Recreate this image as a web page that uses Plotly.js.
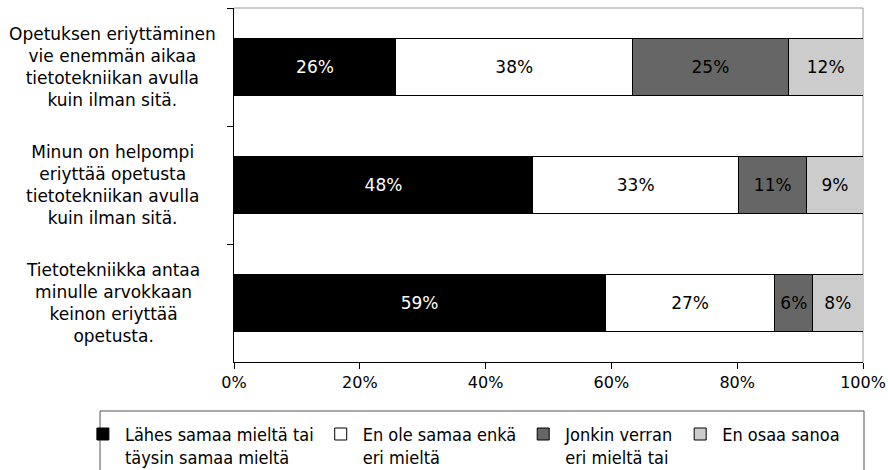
<!DOCTYPE html>
<html>
<head>
<meta charset="utf-8">
<script src="https://cdn.plot.ly/plotly-3.0.1.min.js"></script>
<style>
  html, body { margin: 0; padding: 0; background: #ffffff; }
  #chart { width: 888px; height: 470px; }
</style>
</head>
<body>
<div id="chart"></div>
<script>
// Categories (top to bottom)
const categories = [
  "Opetuksen eriyttäminen<br>vie enemmän aikaa<br>tietotekniikan avulla<br>kuin ilman sitä.",
  "Minun on helpompi<br>eriyttää opetusta<br>tietotekniikan avulla<br>kuin ilman sitä.",
  "Tietotekniikka antaa<br>minulle arvokkaan<br>keinon eriyttää<br>opetusta."
];

// Series names (legend)
const seriesNames = [
  "Lähes samaa mieltä tai<br>täysin samaa mieltä",
  "En ole samaa enkä<br>eri mieltä",
  "Jonkin verran<br>eri mieltä tai",
  "En osaa sanoa"
];

// Series values (percent, per category)
const agree     = [26, 48, 59];
const neutral   = [38, 33, 27];
const disagree  = [25, 11, 6];
const dontKnow  = [12, 9, 8];

const seriesValues = [agree, neutral, disagree, dontKnow];
const seriesColors = ["#000000", "#ffffff", "#666666", "#cccccc"];
const labelColors  = ["#ffffff", "#000000", "#000000", "#000000"];

// X axis ticks
const xTickVals = [0, 20, 40, 60, 80, 100];
const xTickText = ["0%", "20%", "40%", "60%", "80%", "100%"];

const traces = seriesValues.map((vals, i) => ({
  type: "bar",
  orientation: "h",
  name: seriesNames[i],
  y: categories,
  x: vals,
  text: vals.map(v => v + "%"),
  textposition: "inside",
  insidetextanchor: "middle",
  textangle: 0,
  constraintext: "none",
  textfont: { family: "DejaVu Sans", size: 17, color: labelColors[i] },
  marker: { color: seriesColors[i], line: { color: "#000000", width: 1 } },
  hoverinfo: "skip"
}));

const annotations = categories.map(c => ({
  xref: "paper", yref: "y",
  x: -0.1924, y: c,
  xanchor: "center", yanchor: "middle",
  text: c, align: "center", showarrow: false,
  font: { family: "DejaVu Sans", size: 17, color: "#000000" }
}));

const layout = {
  width: 888, height: 470,
  margin: { l: 234, r: 25, t: 8, b: 108, pad: 0, autoexpand: false },
  paper_bgcolor: "#ffffff",
  plot_bgcolor: "#ffffff",
  barmode: "stack",
  barnorm: "percent",
  bargap: 0.515,
  font: { family: "DejaVu Sans", color: "#000000" },
  xaxis: {
    range: [0, 100],
    tickvals: xTickVals,
    ticktext: xTickText,
    ticks: "outside", ticklen: 6, tickcolor: "#000000", tickwidth: 1,
    showline: true, linecolor: "#000000", linewidth: 1,
    showgrid: false, zeroline: false,
    tickfont: { family: "DejaVu Sans", size: 16, color: "#000000" },
    fixedrange: true
  },
  yaxis: {
    type: "category",
    range: [2.5, -0.5],
    tickson: "boundaries",
    ticks: "outside", ticklen: 6, tickcolor: "#000000", tickwidth: 1,
    showline: true, linecolor: "#000000", linewidth: 1,
    showgrid: false, zeroline: false,
    showticklabels: false,
    fixedrange: true
  },
  showlegend: true,
  legend: {
    orientation: "h",
    x: -0.2434, xanchor: "left",
    y: -0.152, yanchor: "top",
    valign: "top",
    itemwidth: 34,
    traceorder: "normal",
    font: { family: "DejaVu Sans Condensed", size: 18, color: "#000000" },
    bgcolor: "rgba(0,0,0,0)",
    borderwidth: 0
  },
  annotations: annotations,
  shapes: [
    { type: "line", xref: "paper", yref: "paper", x0: 0, x1: 1, y0: 1, y1: 1,
      line: { color: "#999999", width: 1 }, layer: "above" },
    { type: "line", xref: "paper", yref: "paper", x0: 1, x1: 1, y0: 0, y1: 1,
      line: { color: "#999999", width: 1 }, layer: "below" },
    { type: "rect", xref: "paper", yref: "paper",
      x0: -0.213, x1: 1.0016, y0: -0.1384, y1: -0.3390,
      line: { color: "#555555", width: 1 }, fillcolor: "rgba(0,0,0,0)", layer: "above" }
  ]
};

Plotly.newPlot("chart", traces, layout, { displayModeBar: false, staticPlot: true });
</script>
</body>
</html>
